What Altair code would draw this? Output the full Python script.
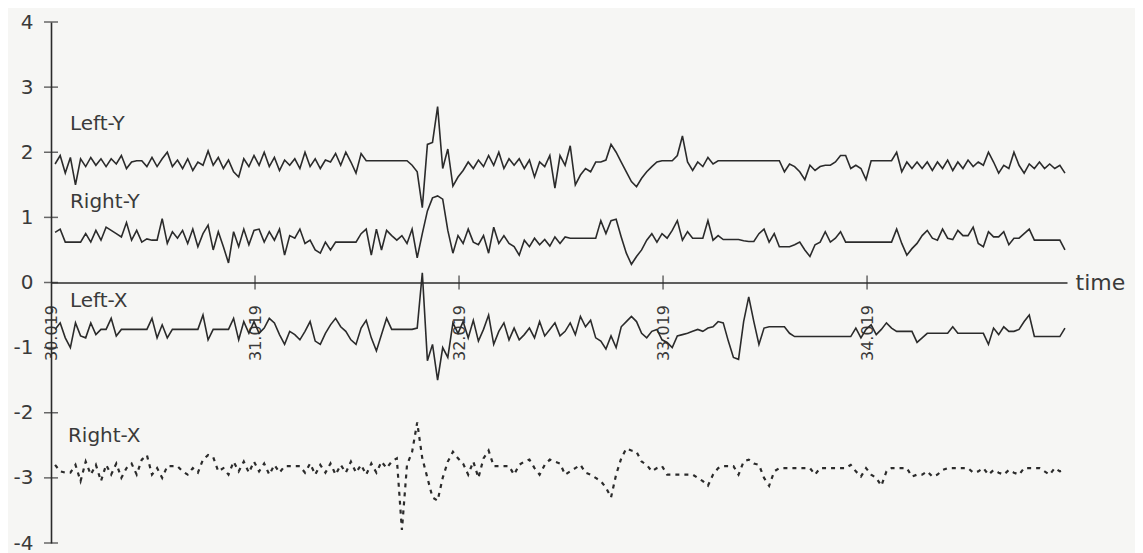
import altair as alt
import pandas as pd

# ---- data ----
t_start = 30.02
t_step = 0.025

left_y = [1.82, 1.95, 1.68, 1.92, 1.5, 1.9, 1.78, 1.92, 1.8, 1.9,
          1.78, 1.9, 1.82, 1.95, 1.75, 1.85, 1.87, 1.87, 1.78, 1.92,
          1.78, 1.9, 2.0, 1.78, 1.88, 1.75, 1.9, 1.72, 1.85, 1.8,
          2.02, 1.8, 1.92, 1.75, 1.88, 1.7, 1.62, 1.9, 1.78, 1.95,
          1.8, 2.0, 1.78, 1.92, 1.72, 1.88, 1.8, 1.9, 1.75, 2.0,
          1.78, 1.9, 1.75, 1.88, 1.85, 1.98, 1.8, 2.0, 1.85, 1.68,
          1.98, 1.87, 1.87, 1.87, 1.87, 1.87, 1.87, 1.87, 1.87, 1.87,
          1.8, 1.7, 1.15, 2.12, 2.15, 2.7, 1.75, 2.05, 1.48, 1.62,
          1.72, 1.85, 1.75, 1.88, 1.78, 1.95, 1.8, 2.0, 1.75, 1.9,
          1.8, 1.9, 1.75, 1.88, 1.62, 1.85, 1.78, 1.95, 1.45, 1.95,
          1.8, 2.1, 1.5, 1.65, 1.75, 1.7, 1.85, 1.85, 1.88, 2.12,
          2.0, 1.85, 1.7, 1.55, 1.47, 1.6, 1.7, 1.78, 1.85, 1.87,
          1.87, 1.87, 1.95, 2.25, 1.85, 1.72, 1.85, 1.78, 1.92, 1.82,
          1.87, 1.87, 1.87, 1.87, 1.87, 1.87, 1.87, 1.87, 1.87, 1.87,
          1.87, 1.87, 1.87, 1.7, 1.82, 1.78, 1.7, 1.58, 1.8, 1.72,
          1.78, 1.8, 1.8, 1.85, 1.95, 1.95, 1.75, 1.8, 1.75, 1.58,
          1.87, 1.87, 1.87, 1.87, 1.87, 2.0, 1.7, 1.85, 1.75, 1.85,
          1.75, 1.85, 1.72, 1.85, 1.75, 1.88, 1.72, 1.85, 1.75, 1.88,
          1.78, 1.85, 1.8, 2.0, 1.85, 1.68, 1.8, 1.75, 2.0, 1.8,
          1.68, 1.82, 1.75, 1.85, 1.75, 1.82, 1.75, 1.8, 1.68]

right_y = [0.77, 0.82, 0.62, 0.62, 0.62, 0.62, 0.75, 0.62, 0.8, 0.65,
           0.85, 0.8, 0.75, 0.7, 0.92, 0.65, 0.8, 0.62, 0.67, 0.65,
           0.65, 0.98, 0.6, 0.78, 0.68, 0.8, 0.6, 0.82, 0.55, 0.75,
           0.88, 0.5, 0.78, 0.55, 0.3, 0.78, 0.55, 0.82, 0.58, 0.8,
           0.82, 0.62, 0.78, 0.65, 0.82, 0.42, 0.72, 0.68, 0.82, 0.6,
           0.65, 0.5, 0.45, 0.62, 0.5, 0.62, 0.62, 0.62, 0.62, 0.62,
           0.75, 0.82, 0.42, 0.82, 0.5, 0.8, 0.72, 0.65, 0.72, 0.6,
           0.82, 0.38, 0.75, 1.1, 1.3, 1.33, 1.28, 0.8, 0.45, 0.72,
           0.6, 0.82, 0.62, 0.58, 0.72, 0.45, 0.85, 0.6, 0.72, 0.6,
           0.55, 0.42, 0.65, 0.55, 0.68, 0.58, 0.66, 0.56, 0.7, 0.6,
           0.7, 0.68, 0.68, 0.68, 0.68, 0.68, 0.68, 0.95, 0.75, 0.95,
           0.97, 0.7, 0.45, 0.28, 0.4, 0.5, 0.65, 0.75, 0.62, 0.75,
           0.68, 0.8, 0.95, 0.65, 0.78, 0.68, 0.68, 0.68, 0.95, 0.65,
           0.72, 0.66, 0.66, 0.66, 0.66, 0.64, 0.63, 0.63, 0.75, 0.82,
           0.62, 0.75, 0.55, 0.55, 0.55, 0.58, 0.62, 0.5, 0.4, 0.58,
           0.62, 0.78, 0.62, 0.68, 0.78, 0.62, 0.62, 0.62, 0.62, 0.62,
           0.62, 0.62, 0.62, 0.62, 0.62, 0.82, 0.6, 0.42, 0.52, 0.6,
           0.72, 0.8, 0.68, 0.65, 0.82, 0.68, 0.66, 0.8, 0.72, 0.72,
           0.85, 0.6, 0.55, 0.78, 0.7, 0.7, 0.78, 0.58, 0.68, 0.68,
           0.75, 0.82, 0.65, 0.65, 0.65, 0.65, 0.65, 0.65, 0.5]

left_x = [-0.72, -0.62, -0.85, -1.0, -0.62, -0.82, -0.85, -0.62, -0.8, -0.72,
          -0.72, -0.55, -0.82, -0.72, -0.72, -0.72, -0.72, -0.72, -0.72, -0.55,
          -0.85, -0.65, -0.85, -0.72, -0.72, -0.72, -0.72, -0.72, -0.72, -0.5,
          -0.88, -0.72, -0.72, -0.72, -0.72, -0.55, -0.88, -0.6, -0.78, -0.6,
          -0.78, -0.7, -0.55, -0.62, -0.8, -0.95, -0.75, -0.8, -0.88, -0.75,
          -0.6, -0.9, -0.95, -0.78, -0.65, -0.55, -0.68, -0.75, -0.88, -0.95,
          -0.7, -0.58, -0.85, -1.05, -0.8, -0.55, -0.72, -0.72, -0.72, -0.72,
          -0.72, -0.7, 0.15, -1.2, -0.95, -1.5, -1.0, -1.15, -0.62, -0.78,
          -0.6, -0.85, -0.58, -0.9, -0.72, -0.5, -0.95, -0.75, -0.62, -0.88,
          -0.7, -0.88, -0.8, -0.7, -0.85, -0.6, -0.82, -0.72, -0.62, -0.82,
          -0.75, -0.62, -0.8, -0.52, -0.68, -0.58, -0.85, -0.9, -1.02, -0.82,
          -1.0, -0.68, -0.6, -0.52, -0.6, -0.78, -0.85, -0.75, -0.72, -0.88,
          -0.92, -1.0, -0.82, -0.8, -0.78, -0.75, -0.72, -0.75, -0.7, -0.68,
          -0.6, -0.62, -0.9, -1.15, -1.18, -0.6, -0.22, -0.6, -0.95, -0.7,
          -0.68, -0.68, -0.68, -0.68, -0.78, -0.83, -0.83, -0.83, -0.83, -0.83,
          -0.83, -0.83, -0.83, -0.83, -0.83, -0.83, -0.83, -0.7, -0.85, -0.72,
          -0.65, -0.8, -0.72, -0.62, -0.7, -0.75, -0.75, -0.75, -0.75, -0.92,
          -0.85, -0.78, -0.78, -0.78, -0.78, -0.78, -0.68, -0.78, -0.78, -0.78,
          -0.78, -0.78, -0.78, -0.95, -0.7, -0.8, -0.68, -0.75, -0.75, -0.72,
          -0.6, -0.5, -0.83, -0.83, -0.83, -0.83, -0.83, -0.83, -0.7]

right_x = [-2.8, -2.9, -2.92, -2.92, -2.8, -3.05, -2.75, -2.95, -2.8, -3.05,
           -2.8, -2.95, -2.78, -3.0, -2.85, -2.78, -2.95, -2.72, -2.65, -2.95,
           -2.85, -3.0, -2.82, -2.82, -2.82, -2.9, -2.95, -2.85, -2.92, -2.72,
           -2.65, -2.68, -2.9, -2.85, -2.95, -2.75, -2.9, -2.75, -2.92, -2.75,
           -2.9, -2.78, -2.95, -2.8, -2.92, -2.82, -2.82, -2.82, -2.82, -2.92,
           -2.78, -2.95, -2.8, -2.92, -2.78, -2.95, -2.8, -2.92, -2.75, -2.92,
           -2.8, -2.95, -2.78, -2.92, -2.75, -2.85, -2.75, -2.7, -3.8, -2.8,
           -2.6, -2.15, -2.7, -3.0, -3.3, -3.35, -3.0, -2.75, -2.6, -2.7,
           -2.78, -2.95, -2.75, -3.0, -2.7, -2.58, -2.82, -2.82, -2.82, -2.82,
           -2.95, -2.8, -2.75, -2.72, -2.85, -2.95, -2.8, -2.72, -2.75, -2.78,
           -2.95, -2.9, -2.85, -2.8, -2.92, -2.95, -3.0, -3.05, -3.15, -3.3,
           -2.95, -2.7, -2.55, -2.58, -2.6, -2.75, -2.8, -2.9, -2.85, -2.82,
           -2.95, -2.95, -2.95, -2.95, -2.95, -2.95, -3.0, -3.05, -3.12, -2.95,
           -2.85, -2.82, -2.82, -2.82, -2.95, -2.75, -2.72, -2.78, -2.8, -3.0,
           -3.12, -2.9, -2.85, -2.85, -2.85, -2.85, -2.85, -2.85, -2.85, -2.95,
           -2.85, -2.85, -2.85, -2.85, -2.85, -2.85, -2.8, -2.9, -2.98, -2.85,
           -2.95, -3.0, -3.12, -2.9, -2.85, -2.85, -2.85, -2.85, -2.98, -2.95,
           -2.95, -2.9, -2.98, -2.95, -2.88, -2.85, -2.85, -2.85, -2.85, -2.85,
           -2.92, -2.9, -2.85, -2.95, -2.88, -2.92, -2.95, -2.88, -2.92, -2.95,
           -2.85, -2.85, -2.85, -2.85, -2.9, -2.95, -2.85, -2.9, -2.88]

x_tick_values = [30, 31, 32, 33, 34]
x_tick_labels = ["30.019", "31.019", "32.019", "33.019", "34.019"]
y_tick_values = [-4, -3, -2, -1, 0, 1, 2, 3, 4]

series_names = ["Left-Y", "Right-Y", "Left-X", "Right-X"]
label_t = [30.093, 30.093, 30.093, 30.083]
label_v = [2.43, 1.23, -0.29, -2.35]

# ---- tables ----
times = [round(t_start + t_step * i, 3) for i in range(len(left_y))]
solid = pd.DataFrame({
    "time": times * 3,
    "value": left_y + right_y + left_x,
    "series": ["Left-Y"] * len(times) + ["Right-Y"] * len(times) + ["Left-X"] * len(times),
})
dashed = pd.DataFrame({"time": times, "value": right_x, "series": "Right-X"})
labels_df = pd.DataFrame({"name": series_names, "t": label_t, "v": label_v})
xt_df = pd.DataFrame({"t": x_tick_values[1:], "v": [0] * 4})
yt_df = pd.DataFrame({"t": [30] * len(y_tick_values), "v": y_tick_values})

W, H = 1016, 521
INK = "#2b2b2b"
TXT = "#3a3a3a"
FONT = "DejaVu Sans"

label_expr = " : ".join(
    f"datum.value == {v} ? '{s}'" for v, s in zip(x_tick_values, x_tick_labels)
) + " : ''"

xscale = alt.Scale(domain=[30, 34.98], nice=False, zero=False)
yscale = alt.Scale(domain=[-4, 4], nice=False, zero=False)

x_axis = alt.Axis(
    values=x_tick_values, labelExpr=label_expr, labelAngle=270, offset=-H / 2,
    ticks=False, grid=False, domainColor=INK, domainWidth=1.6,
    labelPadding=22, labelFontSize=16, labelColor=TXT, labelFont=FONT,
    labelOverlap=False, labelFlush=False,
    title="time", titleX=W + 8, titleY=0, titleAlign="left", titleBaseline="middle",
    titleAngle=0, titleFontSize=22, titleFontWeight="normal", titleColor=TXT,
    titleFont=FONT,
)
y_axis = alt.Axis(
    values=y_tick_values, labelExpr="'' + datum.value", ticks=False, grid=False,
    domainColor=INK, domainWidth=1.6, labelPadding=18, labelFontSize=20,
    labelColor=TXT, labelFont=FONT, title=None,
)

lines = alt.Chart(solid).mark_line(color=INK, strokeWidth=1.6).encode(
    x=alt.X("time:Q", scale=xscale, axis=x_axis),
    y=alt.Y("value:Q", scale=yscale, axis=y_axis),
    detail="series:N",
)
dash_line = alt.Chart(dashed).mark_line(color=INK, strokeWidth=2.2, strokeDash=[4, 5]).encode(
    x=alt.X("time:Q", scale=xscale),
    y=alt.Y("value:Q", scale=yscale),
)
texts = alt.Chart(labels_df).mark_text(
    align="left", baseline="middle", fontSize=20, font=FONT, color=TXT
).encode(
    x=alt.X("t:Q", scale=xscale),
    y=alt.Y("v:Q", scale=yscale),
    text="name:N",
)
xticks = alt.Chart(xt_df).mark_tick(orient="vertical", size=14, thickness=1.5, color=INK).encode(
    x=alt.X("t:Q", scale=xscale),
    y=alt.Y("v:Q", scale=yscale),
)
yticks = alt.Chart(yt_df).mark_tick(orient="horizontal", size=14, thickness=1.5, color=INK).encode(
    x=alt.X("t:Q", scale=xscale),
    y=alt.Y("v:Q", scale=yscale),
)

chart = alt.layer(lines, dash_line, texts, xticks, yticks).properties(
    width=W, height=H,
    autosize=alt.AutoSizeParams(type="none"),
    padding={"left": 43, "top": 14, "right": 68, "bottom": 10},
    background="#f6f6f4",
).configure_view(stroke=None)

chart.save("out.html", embed_options={"renderer": "svg", "actions": False})
